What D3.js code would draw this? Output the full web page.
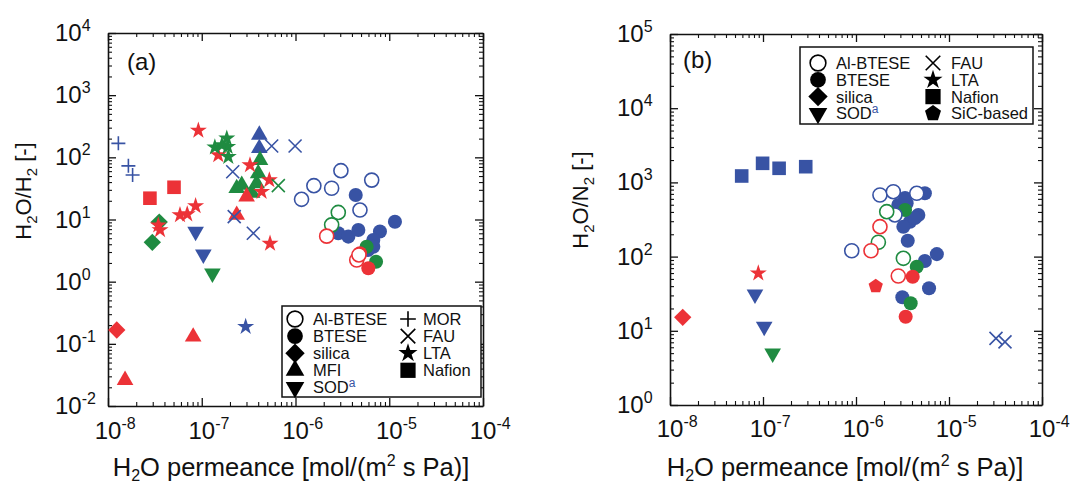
<!DOCTYPE html>
<html><head><meta charset="utf-8">
<script src="https://cdn.jsdelivr.net/npm/d3@7"></script>
<style>body{margin:0;background:#fff}svg{display:block;font-family:"Liberation Sans",Arial,Helvetica,sans-serif}</style>
</head><body><svg id="c" width="1072" height="486"></svg>
<script>
// ---------- tick values ----------
const xTickValues = [1e-8, 1e-7, 1e-6, 1e-5, 1e-4];
const xTickExps = ["-8", "-7", "-6", "-5", "-4"];
const aYTickValues = [1e-2, 1e-1, 1, 10, 100, 1e3, 1e4];
const aYTickExps = ["-2", "-1", "0", "1", "2", "3", "4"];
const bYTickValues = [1, 10, 100, 1e3, 1e4, 1e5];
const bYTickExps = ["0", "1", "2", "3", "4", "5"];

// ---------- panel (a): [H2O permeance, H2O/H2 selectivity, source group] ----------
const aMOR = [[1.29e-8,168,'B'],[1.65e-8,73,'B'],[1.83e-8,52,'B']];
const aNafion = [[2.8e-8,22,'R'],[5.06e-8,33,'R']];
const aLTA = [[9.2e-8,270,'R'],[1.5e-7,109,'R'],[3.27e-7,75,'R'],[5.26e-7,43,'R'],[4.35e-7,28,'R'],
  [5.86e-8,11.8,'R'],[7.0e-8,12.2,'R'],[8.6e-8,16.5,'R'],[3.44e-8,8.1,'R'],[3.59e-8,6.8,'R'],[5.35e-7,4.1,'R'],
  [1.38e-7,145,'G'],[1.85e-7,202,'G'],[1.89e-7,148,'G'],[1.92e-7,102,'G'],[1.64e-7,158,'G'],
  [2.94e-7,0.189,'B']];
const aFAU = [[2.14e-7,58.7,'B'],[5.57e-7,152,'B'],[9.9e-7,152,'B'],[2.22e-7,11.1,'B'],[3.55e-7,6.0,'B'],[6.56e-7,35,'G']];
const aMFI = [[4.11e-7,230,'B'],[4.11e-7,140,'B'],[4.18e-7,90,'G'],[4.0e-7,55,'G'],[3.85e-7,38,'G'],
  [2.36e-7,31.8,'G'],[2.67e-7,35.9,'G'],[3.44e-7,26.7,'G'],[3.01e-7,23.3,'R'],[2.36e-7,11.8,'R'],
  [8.1e-8,0.13,'R'],[1.52e-8,0.026,'R']];
const aSilica = [[3.52e-8,9.1,'G'],[2.97e-8,4.3,'G'],[1.24e-8,0.167,'R']];
const aSOD = [[8.6e-8,6.4,'B'],[1.04e-7,2.75,'B'],[1.30e-7,1.36,'G']];
const aBTESE = [[4.39e-6,24.8,'B'],[2.86e-6,6.0,'B'],[3.66e-6,5.3,'B'],[4.68e-6,6.8,'B'],[1.15e-5,9.2,'B'],
  [7.96e-6,6.4,'B'],[6.76e-6,4.68,'B'],[6.76e-6,3.65,'B'],[5.93e-6,3.23,'B'],[5.74e-6,3.65,'G'],
  [7.23e-6,2.09,'G'],[4.87e-6,2.86,'R'],[5.98e-6,1.64,'R']];
const aAlBTESE = [[1.16e-6,21.1,'B'],[1.57e-6,35,'B'],[2.43e-6,31.8,'B'],[3.05e-6,61,'B'],[6.5e-6,43,'B'],
  [4.87e-6,14.2,'B'],[2.86e-6,13,'G'],[2.43e-6,8.2,'G'],[2.15e-6,5.4,'R'],[4.5e-6,2.23,'R'],[4.75e-6,2.69,'R']];

// ---------- panel (b): [H2O permeance, H2O/N2 selectivity, source group] ----------
const bNafion = [[5.9e-8,1220,'B'],[9.9e-8,1808,'B'],[1.49e-7,1549,'B'],[2.88e-7,1628,'B']];
const bSilica = [[1.37e-8,15.2,'R']];
const bLTA = [[8.9e-8,59.6,'R']];
const bSOD = [[8.2e-8,31,'B'],[1.03e-7,11.4,'B'],[1.27e-7,4.97,'G']];
const bSiC = [[1.63e-6,40,'R']];
const bFAU = [[3.2e-5,7.9,'B'],[4.0e-5,7.1,'B']];
const bBTESE = [[2.85e-6,496,'B'],[3.5e-6,523,'B'],[5.5e-6,713,'B'],[3.37e-6,616,'B'],[4.68e-6,364,'B'],
  [3.81e-6,295,'B'],[3.23e-6,253,'B'],[3.6e-6,164,'B'],[7.4e-6,108,'B'],[5.5e-6,87,'B'],[6.1e-6,37.4,'B'],
  [3.15e-6,28.3,'B'],[4.3e-6,331,'B'],[4.5e-6,73,'G'],[3.87e-6,23.5,'G'],[3.37e-6,425,'G'],
  [4.07e-6,53.6,'R'],[3.42e-6,15.5,'R']];
const bAlBTESE = [[1.81e-6,676,'B'],[2.52e-6,749,'B'],[4.5e-6,713,'B'],[9.0e-7,120,'B'],[2.62e-6,364,'B'],
  [2.14e-6,403,'G'],[1.74e-6,156,'G'],[3.23e-6,94.8,'G'],[1.81e-6,253,'R'],[1.45e-6,120,'R'],[2.85e-6,54.8,'R']];

// ---------- legends ----------
const aLegendCol1 = [["Al-BTESE","circleOpen"],["BTESE","circle"],["silica","diamond"],["MFI","triUp"],["SOD","triDown"]];
const aLegendCol2 = [["MOR","plus"],["FAU","cross"],["LTA","star"],["Nafion","square"]];
const bLegendCol1 = [["Al-BTESE","circleOpen"],["BTESE","circle"],["silica","diamond"],["SOD","triDown"]];
const bLegendCol2 = [["FAU","cross"],["LTA","star"],["Nafion","square"],["SiC-based","pentagon"]];

const COLORS = {B:"#3853a4", R:"#ec3237", G:"#1f8b41"};
const color = d3.scaleOrdinal().domain(["B","R","G"]).range([COLORS.B, COLORS.R, COLORS.G]);
const FONT = '"Liberation Sans",Arial,Helvetica,sans-serif';
const svg = d3.select("#c");

function shapePath(shape, k) {
  k = k || 1;
  switch (shape) {
    case "circle": case "circleOpen": return d3.symbol(d3.symbolCircle, 155*k*k)();
    case "square": return d3.symbol(d3.symbolSquare, 185*k*k)();
    case "diamond": return d3.symbol(d3.symbolSquare, 150*k*k)();
    case "triUp": case "triDown": return d3.symbol(d3.symbolTriangle, 120*k*k)();
    case "star": return d3.symbol(d3.symbolStar, 90*k*k)();
    case "plus": { const h = 7*k; return `M${-h},0H${h}M0,${-h}V${h}`; }
    case "cross": { const h = 6.5*k; return `M${-h},${-h}L${h},${h}M${-h},${h}L${h},${-h}`; }
    case "pentagon": {
      const r = 7.5*k; const p = d3.range(5).map(i => { const a = -Math.PI/2 + i*2*Math.PI/5; return [r*Math.cos(a), r*Math.sin(a)]; });
      return "M" + p.map(q => q[0].toFixed(2)+","+q[1].toFixed(2)).join("L") + "Z";
    }
  }
}
function rotFor(shape) { return shape === "diamond" ? " rotate(45)" : shape === "triDown" ? " rotate(180)" : ""; }
function styleMark(sel, shape, c) {
  if (shape === "plus" || shape === "cross") sel.attr("fill", "none").attr("stroke", c).attr("stroke-width", 1.6);
  else if (shape === "circleOpen") sel.attr("fill", "#fff").attr("stroke", c).attr("stroke-width", 1.6);
  else sel.attr("fill", c).attr("stroke", "none");
}

function drawPanel(cfg) {
  const x = d3.scaleLog().domain([1e-8, 1e-4]).range([cfg.left, cfg.right]);
  const y = d3.scaleLog().domain(cfg.yDomain).range([cfg.bottom, cfg.top]);
  const g = svg.append("g");

  const minorX = [], minorY = [];
  for (let e = -8; e < -4; e++) for (let m = 2; m <= 9; m++) minorX.push(m*Math.pow(10, e));
  const ylo = Math.round(Math.log10(cfg.yDomain[0])), yhi = Math.round(Math.log10(cfg.yDomain[1]));
  for (let e = ylo; e < yhi; e++) for (let m = 2; m <= 9; m++) minorY.push(m*Math.pow(10, e));

  const makers = [() => d3.axisBottom(x), () => d3.axisTop(x), () => d3.axisLeft(y), () => d3.axisRight(y)];
  const trans = [`translate(0,${cfg.bottom})`, `translate(0,${cfg.top})`, `translate(${cfg.left},0)`, `translate(${cfg.right},0)`];
  const majors = [xTickValues, xTickValues, cfg.yTicks, cfg.yTicks];
  const minors = [minorX, minorX, minorY, minorY];
  makers.forEach((mk, i) => {
    const gm = g.append("g").attr("transform", trans[i])
      .call(mk().tickValues(minors[i]).tickSizeInner(-4).tickSizeOuter(0).tickFormat(() => ""));
    gm.select(".domain").remove();
    gm.selectAll(".tick line").attr("stroke", "#111").attr("stroke-width", 1.1);
    const gM = g.append("g").attr("transform", trans[i])
      .call(mk().tickValues(majors[i]).tickSizeInner(-8).tickSizeOuter(0).tickFormat(() => ""));
    gM.select(".domain").attr("stroke", "#111").attr("stroke-width", 1.6);
    gM.selectAll(".tick line").attr("stroke", "#111").attr("stroke-width", 1.3);
  });

  xTickValues.forEach((v, i) => {
    const t = g.append("text").attr("x", x(v) - 13.3).attr("y", cfg.xLabelY)
      .attr("font-family", FONT).attr("font-size", 24).attr("fill", "#111");
    t.append("tspan").text("10");
    t.append("tspan").attr("font-size", 16).attr("dy", -10).text(xTickExps[i]);
  });
  cfg.yTicks.forEach((v, i) => {
    const t = g.append("text").attr("x", cfg.yLabelX).attr("y", y(v) + 8)
      .attr("font-family", FONT).attr("font-size", 24).attr("fill", "#111");
    t.append("tspan").text("10");
    t.append("tspan").attr("font-size", 16).attr("dy", -10).text(cfg.yTickExps[i]);
  });

  const xt = g.append("text").attr("x", cfg.xTitleX).attr("y", 476).attr("text-anchor", "middle")
    .attr("font-family", FONT).attr("font-size", 25.5).attr("fill", "#111");
  xt.append("tspan").text("H");
  xt.append("tspan").attr("font-size", 16).attr("dy", 5).text("2");
  xt.append("tspan").attr("dy", -5).text("O permeance [mol/(m");
  xt.append("tspan").attr("font-size", 16).attr("dy", -10).text("2");
  xt.append("tspan").attr("dy", 10).text(" s Pa)]");

  const yt = g.append("text").attr("transform", `translate(${cfg.yTitleX},${cfg.yTitleY}) rotate(-90)`)
    .attr("text-anchor", "middle").attr("font-family", FONT).attr("font-size", 22).attr("fill", "#111");
  yt.append("tspan").text("H");
  yt.append("tspan").attr("font-size", 15).attr("dy", 6).text("2");
  yt.append("tspan").attr("dy", -6).text("O/" + cfg.gas);
  yt.append("tspan").attr("font-size", 15).attr("dy", 6).text("2");
  yt.append("tspan").attr("dy", -6).text(" [-]");

  g.append("text").attr("x", cfg.letterX).attr("y", cfg.letterY).attr("font-family", FONT)
    .attr("font-size", 24).attr("fill", "#111").text(cfg.letter);

  cfg.series.forEach(([data, shape]) => {
    g.append("g").selectAll("path").data(data).join("path")
      .attr("d", shapePath(shape))
      .attr("transform", d => `translate(${x(d[0])},${y(d[1])})${rotFor(shape)}`)
      .each(function (d) { styleMark(d3.select(this), shape, color(d[2])); });
  });

  const L = cfg.legend;
  g.append("rect").attr("x", L.x0).attr("y", L.y0).attr("width", L.x1 - L.x0).attr("height", L.y1 - L.y0)
    .attr("fill", "#fff").attr("stroke", "#111").attr("stroke-width", 1.5);
  [[L.col1, L.s1, L.t1], [L.col2, L.s2, L.t2]].forEach(([items, sx, tx]) => {
    items.forEach(([label, shape], i) => {
      const cy = L.rowY + i*L.dy;
      const p = g.append("path").attr("d", shapePath(shape, 1.12))
        .attr("transform", `translate(${sx},${cy})${rotFor(shape)}`);
      styleMark(p, shape, "#000");
      const t = g.append("text").attr("x", tx).attr("y", cy + 6).attr("font-family", FONT)
        .attr("font-size", 16.5).attr("fill", "#111");
      t.append("tspan").text(label);
      if (label === "SOD") t.append("tspan").attr("font-size", 12).attr("dy", -6).attr("fill", COLORS.B).text("a");
    });
  });
}

drawPanel({
  left: 108, right: 483, top: 33, bottom: 406, yDomain: [1e-2, 1e4],
  yTicks: aYTickValues, yTickExps: aYTickExps, yLabelX: 55, xLabelY: 439,
  xTitleX: 291, yTitleX: 31, yTitleY: 191, gas: "H", letter: "(a)", letterX: 127, letterY: 70,
  series: [[aNafion,"square"],[aMOR,"plus"],[aSilica,"diamond"],[aSOD,"triDown"],[aMFI,"triUp"],
           [aLTA,"star"],[aFAU,"cross"],[aBTESE,"circle"],[aAlBTESE,"circleOpen"]],
  legend: {x0: 282, y0: 306, x1: 481, y1: 397, rowY: 319, dy: 17.1, col1: aLegendCol1, col2: aLegendCol2,
           s1: 295, t1: 313, s2: 408, t2: 423}
});
drawPanel({
  left: 670, right: 1042, top: 34, bottom: 405, yDomain: [1, 1e5],
  yTicks: bYTickValues, yTickExps: bYTickExps, yLabelX: 617, xLabelY: 437,
  xTitleX: 845, yTitleX: 588, yTitleY: 200, gas: "N", letter: "(b)", letterX: 683, letterY: 68,
  series: [[bNafion,"square"],[bSilica,"diamond"],[bSOD,"triDown"],[bLTA,"star"],[bSiC,"pentagon"],
           [bFAU,"cross"],[bBTESE,"circle"],[bAlBTESE,"circleOpen"]],
  legend: {x0: 800, y0: 47, x1: 1033, y1: 124, rowY: 63, dy: 16.8, col1: bLegendCol1, col2: bLegendCol2,
           s1: 818, t1: 836, s2: 933, t2: 951}
});
</script></body></html>
